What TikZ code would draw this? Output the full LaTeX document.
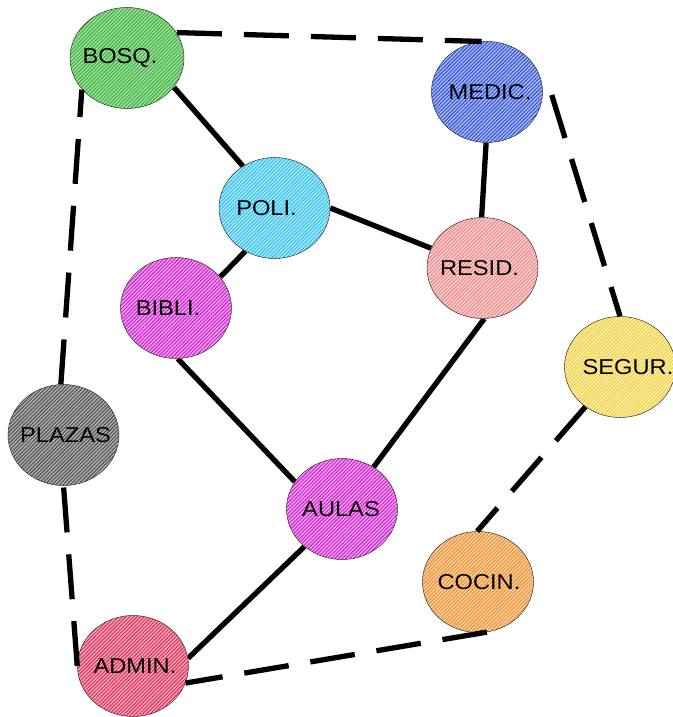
\documentclass[tikz,border=0pt]{standalone}
\usepackage{fontspec}
\setmainfont{Liberation Sans}
\newfontfamily\lblfont[FakeStretch=1.1]{Liberation Sans}
\usetikzlibrary{shapes.geometric,patterns.meta,backgrounds,calc}
\definecolor{bosqL}{HTML}{3CB43C}\definecolor{bosqF}{HTML}{A8E0A8}
\definecolor{medicL}{HTML}{3050E0}\definecolor{medicF}{HTML}{B0C0F4}
\definecolor{poliL}{HTML}{30C0F0}\definecolor{poliF}{HTML}{B4EAFB}
\definecolor{residL}{HTML}{F08888}\definecolor{residF}{HTML}{FAD4D4}
\definecolor{bibliL}{HTML}{D020D0}\definecolor{bibliF}{HTML}{F2AAF2}
\definecolor{segurL}{HTML}{F0D040}\definecolor{segurF}{HTML}{FCF0B4}
\definecolor{plazaL}{HTML}{505050}\definecolor{plazaF}{HTML}{B4B4B4}
\definecolor{cocinL}{HTML}{F09030}\definecolor{cocinF}{HTML}{F9D4A8}
\definecolor{adminL}{HTML}{E0305A}\definecolor{adminF}{HTML}{F5ACBC}
\tikzset{
  place/.style={ellipse, draw=black!80, line width=0.5bp, minimum width=111bp, minimum height=101bp, inner sep=0pt},
  hatch/.style 2 args={preaction={fill=#2}, pattern={Lines[angle=45,distance=2.6bp,line width=1.1bp]}, pattern color=#1},
  lbl/.style={font=\lblfont\fontsize{21.5bp}{24bp}\selectfont, text=black, inner sep=0pt},
  link/.style={line width=5.3bp, black},
  fence/.style={line width=5.3bp, black, dash pattern=on 45bp off 22bp},
}
\begin{document}
\begin{tikzpicture}[x=1bp,y=-1bp]
\useasboundingbox (0,0) rectangle (673,717);
\node[place, minimum width=114bp, hatch={bosqL}{bosqF}, label={[lbl,xshift=-7bp]center:BOSQ.}] (BOSQ) at (127,58) {};
\node[place, hatch={medicL}{medicF}, label={[lbl,xshift=3bp]center:MEDIC.}] (MEDIC) at (487,92) {};
\node[place, hatch={poliL}{poliF}, label={[lbl,xshift=-8bp]center:POLI.}] (POLI) at (274.5,208) {};
\node[place, hatch={residL}{residF}, label={[lbl,xshift=-3bp]center:RESID.}] (RESID) at (482.5,268) {};
\node[place, hatch={bibliL}{bibliF}, label={[lbl,xshift=-8bp]center:BIBLI.}] (BIBLI) at (176,308) {};
\node[place, hatch={segurL}{segurF}, label={[lbl,xshift=8bp]center:SEGUR.}] (SEGUR) at (620,367) {};
\node[place, hatch={plazaL}{plazaF}, label={[lbl,xshift=2bp]center:PLAZAS}] (PLAZAS) at (63.5,435) {};
\node[place, hatch={bibliL}{bibliF}, label={[lbl,xshift=-1bp]center:AULAS}] (AULAS) at (342,509) {};
\node[place, hatch={cocinL}{cocinF}, label={[lbl,xshift=1bp]center:COCIN.}] (COCIN) at (478,582) {};
\node[place, hatch={adminL}{adminF}, label={[lbl,xshift=2bp]center:ADMIN.}] (ADMIN) at (133,666) {};
\begin{scope}[on background layer]
  \fill[white] (0,0) rectangle (673,717);
  \draw[link] (BOSQ.328) -- (POLI.127);
  \draw[link] (POLI.east) -- (RESID.159);
  \draw[link] (POLI.236) -- (BIBLI.35);
  \draw[link] (MEDIC.269) -- (RESID.91);
  \draw[link] (BIBLI.272) -- (AULAS.150);
  \draw[link] (RESID.272) -- (AULAS.53);
  \draw[link] (AULAS.225) -- (ADMIN.8);
\end{scope}
\coordinate (medicOut) at ($(MEDIC.east)+(9,3)$);
\draw[fence] (BOSQ.27) -- (MEDIC.96);
\draw[fence] (medicOut) -- (SEGUR.north);
\draw[fence] (SEGUR.229) -- (COCIN.91);
\draw[fence] (COCIN.280) -- (ADMIN.342);
\draw[fence] (ADMIN.west) -- (PLAZAS.south);
\draw[fence] (PLAZAS.93) -- (BOSQ.215);
\end{tikzpicture}
\end{document}
